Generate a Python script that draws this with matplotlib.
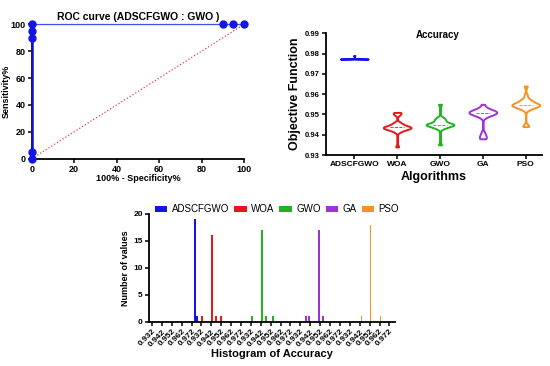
import numpy as np
import matplotlib
matplotlib.use("Agg")
import matplotlib.pyplot as plt
from matplotlib.patches import Patch

plt.rcParams['font.family'] = ['Liberation Sans', 'DejaVu Sans']

# ROC curve points (ADSCFGWO : GWO)
roc_fpr = [0, 0, 0, 0, 0, 90, 95, 100]
roc_tpr = [0, 5, 90, 95, 100, 100, 100, 100]

# Accuracy samples per algorithm
algos = ["ADSCFGWO", "WOA", "GWO", "GA", "PSO"]
colors = ["#1414E6", "#E8161B", "#1DB41D", "#A033D4", "#F7921E"]
acc_adscfgwo = [0.9773] * 19 + [0.9790]
acc_woa = [0.934, 0.9415, 0.942, 0.9425, 0.943, 0.943, 0.9432, 0.9435, 0.9435, 0.9435,
           0.9437, 0.944, 0.944, 0.9445, 0.945, 0.9455, 0.946, 0.950, 0.951, 0.9505]
acc_gwo = [0.935, 0.943, 0.9435, 0.944, 0.9445, 0.9448, 0.945, 0.945, 0.945, 0.945,
           0.9452, 0.9455, 0.946, 0.9465, 0.947, 0.9475, 0.948, 0.9485, 0.955, 0.9442]
acc_ga = [0.938, 0.9385, 0.9395, 0.941, 0.949, 0.9495, 0.950, 0.9505, 0.951, 0.951,
          0.951, 0.9512, 0.9515, 0.9518, 0.952, 0.9525, 0.953, 0.9508, 0.955, 0.9502]
acc_pso = [0.944, 0.9445, 0.9525, 0.953, 0.9535, 0.954, 0.954, 0.9545, 0.9545, 0.9545,
           0.955, 0.955, 0.9555, 0.956, 0.9565, 0.957, 0.9575, 0.964, 0.9595, 0.9548]
acc_data = [acc_adscfgwo, acc_woa, acc_gwo, acc_ga, acc_pso]

# Histogram of accuracy: bin values and counts per algorithm
hist_bins = [[0.9754, 0.9780],
             [0.9328, 0.9423, 0.9466, 0.9514],
             [0.9333, 0.9434, 0.9468, 0.9545],
             [0.9373, 0.9409, 0.9510, 0.9550],
             [0.9438, 0.9529, 0.9630]]
hist_counts = [[19, 1],
               [1, 16, 1, 1],
               [1, 17, 1, 1],
               [1, 1, 17, 1],
               [1, 18, 1]]
hist_ticks = ["0.932", "0.942", "0.952", "0.962", "0.972"]

fig = plt.figure(figsize=(5.5, 3.66), dpi=100)


def style_axes(ax, fs):
    for s in ["top", "right"]:
        ax.spines[s].set_visible(False)
    for s in ["left", "bottom"]:
        ax.spines[s].set_linewidth(1.3)
    ax.tick_params(direction="out", length=3, width=1.1, labelsize=fs, pad=1.5)
    for lab in ax.get_xticklabels() + ax.get_yticklabels():
        lab.set_fontweight("bold")


# --- ROC curve ---
ax1 = fig.add_axes([0.0576, 0.5664, 0.386, 0.367])
ax1.plot([0, 100], [0, 100], ls=":", color="#E04040", lw=0.9)
ax1.plot(roc_fpr, roc_tpr, color="#3C50F0", lw=0.9, clip_on=False, zorder=3)
ax1.plot([0, 0], [0, 100], color="#1010C8", lw=1.8, clip_on=False, zorder=3)
ax1.plot(roc_fpr, roc_tpr, "o", color="#1414E6", ms=5, clip_on=False, zorder=4)
ax1.set_xlim(0, 100)
ax1.set_ylim(0, 100)
ax1.set_xticks(range(0, 101, 20))
ax1.set_yticks(range(0, 101, 20))
style_axes(ax1, 6.5)
ax1.set_title("ROC curve (ADSCFGWO : GWO )", fontsize=7.5, fontweight="bold", pad=3)
ax1.set_xlabel("100% - Specificity%", fontsize=6.5, fontweight="bold", labelpad=0)
ax1.set_ylabel("Sensitivity%", fontsize=6.5, fontweight="bold", labelpad=0)

# --- Accuracy violins ---
ax2 = fig.add_axes([0.5927, 0.5765, 0.392, 0.3325])
pos = np.arange(1, len(algos) + 1)
vp = ax2.violinplot(acc_data, positions=pos, widths=0.65, showextrema=False,
                    showmedians=True, bw_method=0.22)
for body, c in zip(vp["bodies"], colors):
    body.set_facecolor("white")
    body.set_edgecolor(c)
    body.set_linewidth(1.4)
    body.set_alpha(1)
vp["cmedians"].set_color(colors)
vp["cmedians"].set_linestyle("--")
vp["cmedians"].set_linewidth(0.6)
ax2.set_xlim(0.34, 5.37)
ax2.set_ylim(0.93, 0.99)
ax2.set_xticks(pos)
ax2.set_xticklabels(algos)
ax2.set_yticks(np.arange(0.93, 0.991, 0.01))
ax2.set_yticklabels(["0.93", "0.94", "0.95", "0.96", "0.97", "0.98", "0.99"])
style_axes(ax2, 5.5)
ax2.tick_params(axis="x", labelsize=6)
ax2.text(0.52, 0.99, "Accuracy", transform=ax2.transAxes, ha="center", va="center",
         fontsize=7, fontweight="bold")
ax2.set_xlabel("Algorithms", fontsize=9, fontweight="bold", labelpad=2)
ax2.set_ylabel("Objective Function", fontsize=9, fontweight="bold", labelpad=3)

# --- Histogram ---
ax3 = fig.add_axes([0.2709, 0.121, 0.447, 0.295])
for g, (vals, cnts, c) in enumerate(zip(hist_bins, hist_counts, colors)):
    xs = [g * 5 + (v - 0.932) / 0.01 for v in vals]
    ax3.bar(xs, cnts, width=0.2, color=c, lw=0, antialiased=False, zorder=2)
ax3.set_xlim(-0.3, 24.55)
ax3.set_ylim(0, 20)
ax3.set_yticks([0, 5, 10, 15, 20])
ax3.set_xticks(range(25))
ax3.set_xticklabels(hist_ticks * 5, rotation=45, ha="right", rotation_mode="anchor")
style_axes(ax3, 6)
ax3.tick_params(axis="x", labelsize=6)
ax3.set_xlabel("Histogram of Accuracy", fontsize=8, fontweight="bold", labelpad=1)
ax3.set_ylabel("Number of values", fontsize=6.5, fontweight="bold", labelpad=2)
handles = [Patch(facecolor=c) for c in colors]
ax3.legend(handles, algos, loc="center", bbox_to_anchor=(0.52, 1.04), ncol=5,
           frameon=False, fontsize=7, handlelength=1.3, handleheight=0.6,
           handletextpad=0.45, columnspacing=0.5, borderpad=0)

fig.savefig("out.png", dpi=100)
